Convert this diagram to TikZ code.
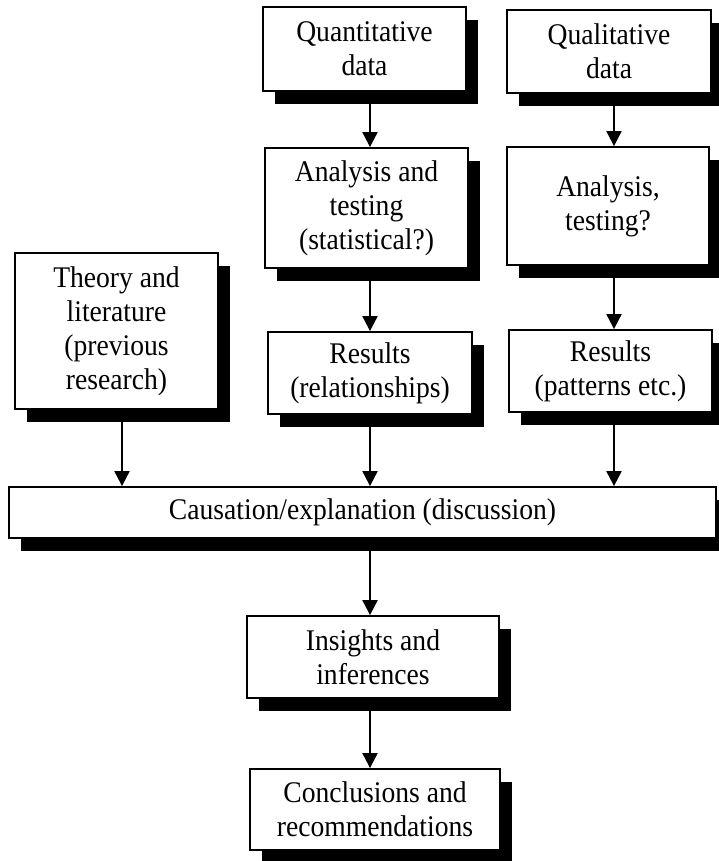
\documentclass[tikz,border=0pt]{standalone}
\usepackage{fontspec}
\setmainfont{Liberation Serif}[FakeStretch=0.92]
\usetikzlibrary{arrows.meta,shadows}

\tikzset{
  flowbox/.style={draw=black, line width=1.8pt, fill=white, inner sep=0pt,
    align=center, font=\fontsize{30}{34}\selectfont,
    drop shadow={shadow xshift=12pt, shadow yshift=-13pt, fill=black, opacity=1}},
  flowarrow/.style={line width=2pt, -{Triangle[length=15pt,width=15pt]}}
}

\begin{document}
\begin{tikzpicture}[x=1pt, y=-1pt]
  \useasboundingbox[fill=white] (0,0) rectangle (718,861);

  % column lines for the connectors
  \coordinate (colt) at (122,0);
  \coordinate (colq) at (370,0);
  \coordinate (coll) at (614,0);

  % upper row: data sources
  \node[flowbox, minimum width=203pt, minimum height=84pt] (quant) at (364.5,49)
    {Quantitative\\data};
  \node[flowbox, minimum width=204pt, minimum height=83pt] (qual) at (609,51.5)
    {Qualitative\\data};

  % analysis
  \node[flowbox, minimum width=203pt, minimum height=120pt] (anq) at (366.5,208)
    {Analysis and\\testing\\(statistical?)};
  \node[flowbox, minimum width=202pt, minimum height=118pt] (anl) at (608,206)
    {Analysis,\\testing?};

  % theory and results
  \node[flowbox, minimum width=203pt, minimum height=156pt] (theory) at (116.5,331)
    {Theory and\\literature\\(previous\\research)};
  \node[flowbox, minimum width=204pt, minimum height=82pt] (resq) at (370,373)
    {Results\\(relationships)};
  \node[flowbox, minimum width=203pt, minimum height=82pt] (resl) at (610.5,371)
    {Results\\(patterns etc.)};

  % discussion
  \node[flowbox, minimum width=707pt, minimum height=51pt] (cause) at (362.5,512.5)
    {Causation/explanation (discussion)};

  % outcomes
  \node[flowbox, minimum width=252pt, minimum height=82pt] (ins) at (373,657)
    {Insights and\\inferences};
  \node[flowbox, minimum width=250pt, minimum height=81pt] (concl) at (375,809.5)
    {Conclusions and\\recommendations};

  % connectors
  \draw[flowarrow] (quant.south -| colq) -- (anq.north -| colq);
  \draw[flowarrow] (qual.south -| coll) -- (anl.north -| coll);
  \draw[flowarrow] (anq.south -| colq) -- (resq.north -| colq);
  \draw[flowarrow] (anl.south -| coll) -- (resl.north -| coll);
  \draw[flowarrow] (theory.south -| colt) -- (cause.north -| colt);
  \draw[flowarrow] (resq.south -| colq) -- (cause.north -| colq);
  \draw[flowarrow] (resl.south -| coll) -- (cause.north -| coll);
  \draw[flowarrow] (cause.south -| colq) -- (ins.north -| colq);
  \draw[flowarrow] (ins.south -| colq) -- (concl.north -| colq);
\end{tikzpicture}
\end{document}
